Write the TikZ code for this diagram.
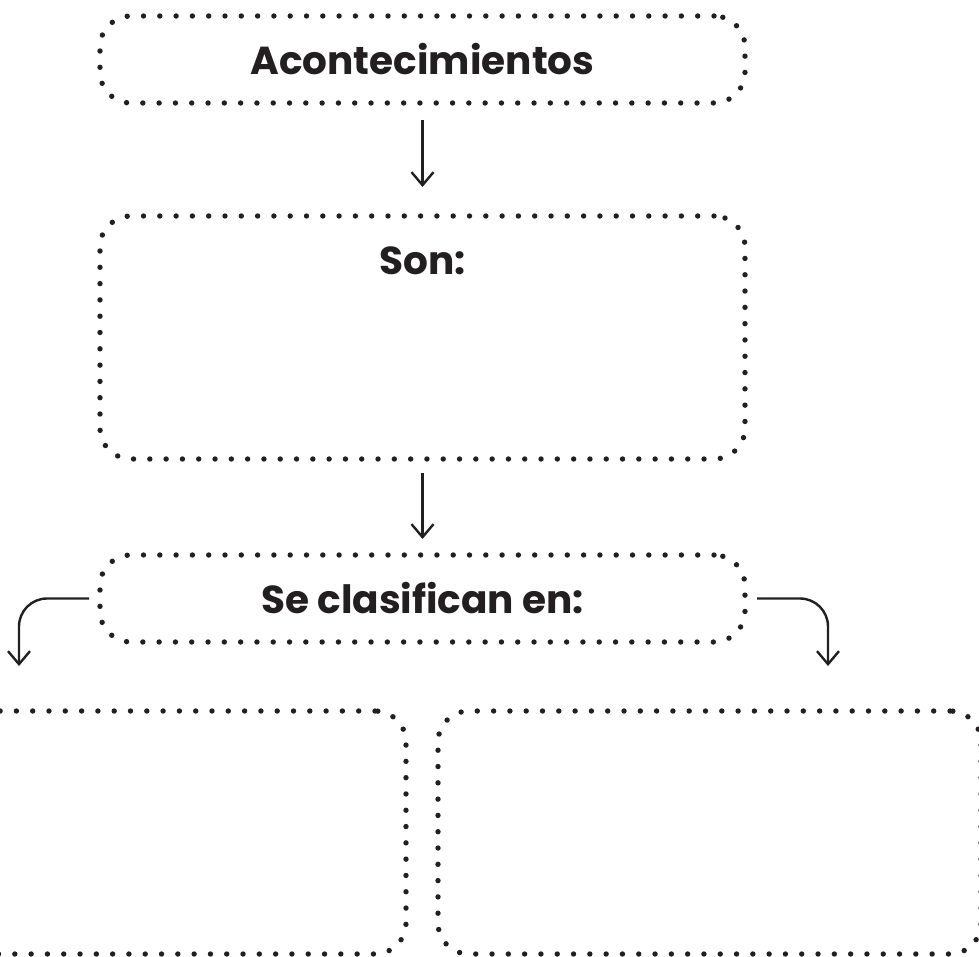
\documentclass[tikz,border=0pt]{standalone}
\usepackage{fontspec}
\setmainfont{Poppins}[Ligatures=NoCommon]
\usetikzlibrary{arrows.meta}
\definecolor{ink}{RGB}{35,31,32}

\begin{document}
\begin{tikzpicture}[x=0.5pt,y=-0.5pt,
    dotbox/.style={draw=ink, line width=2.7pt, dash pattern=on 0pt off 8.15pt,
      line cap=round, rounded corners=15.5pt, inner sep=0pt, outer sep=0pt,
      minimum width=322.5pt},
    link/.style={draw=ink, line width=1.2pt, -{Straight Barb[length=6.5pt,width=11pt]}},
    font=\fontsize{19.5}{23}\selectfont\bfseries, text=ink]
\useasboundingbox (0,0) rectangle (979,957);
% Draw the boxes
        \node[dotbox, minimum height=43.5pt] (A) at (422.5,59.5) {Acontecimientos};
        \node[dotbox, minimum height=121.5pt] (B) at (422.5,337.5) {};
        \node (T) at (422.5,261) {Son:};
        \node[dotbox, minimum height=43.5pt] (C) at (422.5,598.5) {Se clasifican en:};
        \node[dotbox, minimum width=271.5pt, minimum height=121.5pt] (L) at (134.5,832.5) {};
        \node[dotbox, minimum width=271.5pt, minimum height=121.5pt] (R) at (709.5,832.5) {};
% Draw arrows
        \coordinate (l) at (19,666);
        \coordinate (r) at (828,666);
        \draw[link] ([yshift=-8.5pt]A.south) -- ([yshift=14.5pt]B.north);
        \draw[link] ([yshift=-7pt]B.south) -- ([yshift=8pt]C.north);
        \draw[link, rounded corners=14pt] ([xshift=-5.5pt]C.west) -| (l);
        \draw[link, rounded corners=14pt] ([xshift=6pt]C.east) -| (r);
\end{tikzpicture}
\end{document}
